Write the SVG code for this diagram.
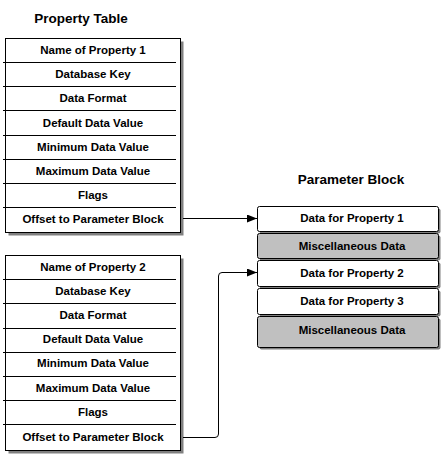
<svg xmlns="http://www.w3.org/2000/svg" width="445" height="456" viewBox="0 0 445 456">
<defs>
<style>
text{font-family:"Liberation Sans",Arial,sans-serif;font-weight:bold;fill:#000;text-anchor:middle}
.t{font-size:11.5px}
.h{font-size:13.5px}
.box{fill:#fff;stroke:#000;stroke-width:1}
.gray{fill:#c0c0c0;stroke:#000;stroke-width:1}
.sh{fill:#808080}
.sep{stroke:#000;stroke-width:1}
.con{fill:none;stroke:#000;stroke-width:1}
</style>
<marker id="arr" markerWidth="10" markerHeight="8" refX="10" refY="4" orient="auto" markerUnits="userSpaceOnUse">
<path d="M0,0 L10,4 L0,8 Z" fill="#000"/>
</marker>
</defs>
<rect width="445" height="456" fill="#fff"/>

<text class="h" x="81" y="23">Property Table</text>
<text class="h" x="351" y="184">Parameter Block</text>

<g id="table1">
<rect class="sh" x="8.5" y="41.5" width="175" height="194"/>
<rect class="box" x="5.5" y="38.5" width="175" height="194"/>
<line class="sep" x1="3" y1="62.5" x2="176" y2="62.5"/>
<line class="sep" x1="3" y1="86.5" x2="176" y2="86.5"/>
<line class="sep" x1="3" y1="110.5" x2="176" y2="110.5"/>
<line class="sep" x1="3" y1="135.5" x2="176" y2="135.5"/>
<line class="sep" x1="3" y1="159.5" x2="176" y2="159.5"/>
<line class="sep" x1="3" y1="183.5" x2="176" y2="183.5"/>
<line class="sep" x1="3" y1="207.5" x2="176" y2="207.5"/>
<text class="t" x="93" y="54">Name of Property 1</text>
<text class="t" x="93" y="78">Database Key</text>
<text class="t" x="93" y="102">Data Format</text>
<text class="t" x="93" y="127">Default Data Value</text>
<text class="t" x="93" y="151">Minimum Data Value</text>
<text class="t" x="93" y="175">Maximum Data Value</text>
<text class="t" x="93" y="199">Flags</text>
<text class="t" x="93" y="223">Offset to Parameter Block</text>
</g>

<g id="table2">
<rect class="sh" x="8.5" y="258.5" width="175" height="195"/>
<rect class="box" x="5.5" y="255.5" width="175" height="195"/>
<line class="sep" x1="3" y1="279.5" x2="176" y2="279.5"/>
<line class="sep" x1="3" y1="303.5" x2="176" y2="303.5"/>
<line class="sep" x1="3" y1="328.5" x2="176" y2="328.5"/>
<line class="sep" x1="3" y1="352.5" x2="176" y2="352.5"/>
<line class="sep" x1="3" y1="376.5" x2="176" y2="376.5"/>
<line class="sep" x1="3" y1="400.5" x2="176" y2="400.5"/>
<line class="sep" x1="3" y1="424.5" x2="176" y2="424.5"/>
<text class="t" x="93" y="271">Name of Property 2</text>
<text class="t" x="93" y="295">Database Key</text>
<text class="t" x="93" y="319">Data Format</text>
<text class="t" x="93" y="343">Default Data Value</text>
<text class="t" x="93" y="367">Minimum Data Value</text>
<text class="t" x="93" y="392">Maximum Data Value</text>
<text class="t" x="93" y="416">Flags</text>
<text class="t" x="93" y="441">Offset to Parameter Block</text>
</g>

<g id="p1">
<rect class="sh" x="259.5" y="208.5" width="181" height="25" rx="2"/>
<rect class="box" x="257.5" y="206.5" width="181" height="25" rx="2"/>
<text class="t" x="352" y="222">Data for Property 1</text>
</g>
<g id="misc1">
<rect class="sh" x="259.5" y="235.5" width="181" height="25" rx="2"/>
<rect class="gray" x="257.5" y="233.5" width="181" height="25" rx="2"/>
<text class="t" x="352" y="250">Miscellaneous Data</text>
</g>
<g id="p2">
<rect class="sh" x="259.5" y="262.5" width="181" height="26" rx="2"/>
<rect class="box" x="257.5" y="260.5" width="181" height="26" rx="2"/>
<text class="t" x="352" y="277">Data for Property 2</text>
</g>
<g id="p3">
<rect class="sh" x="259.5" y="290.5" width="181" height="26" rx="2"/>
<rect class="box" x="257.5" y="288.5" width="181" height="26" rx="2"/>
<text class="t" x="352" y="305">Data for Property 3</text>
</g>
<g id="misc2">
<rect class="sh" x="259.5" y="318.5" width="181" height="31" rx="2"/>
<rect class="gray" x="257.5" y="316.5" width="181" height="31" rx="2"/>
<text class="t" x="352" y="334">Miscellaneous Data</text>
</g>

<g id="connectors">
<path class="con" d="M183,218.5 L257,218.5" marker-end="url(#arr)"/>
<path class="con" d="M183,437.5 L215,437.5 Q218.5,437.5 218.5,434 L218.5,276 Q218.5,272.5 222,272.5 L257,272.5" marker-end="url(#arr)"/>
</g>
</svg>
